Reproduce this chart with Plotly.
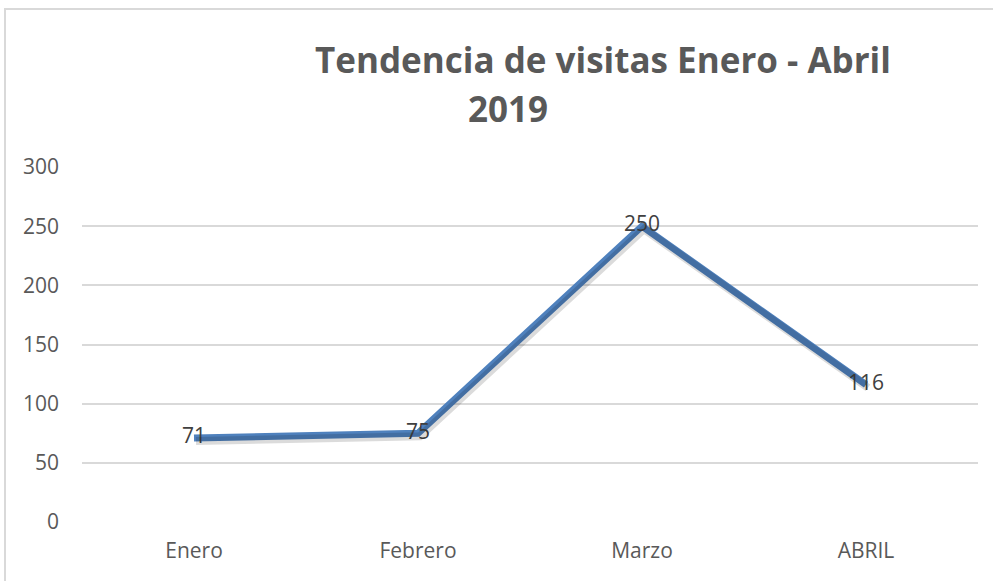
import plotly.graph_objects as go

categories = ["Enero", "Febrero", "Marzo", "ABRIL"]
visitas = [71, 75, 250, 116]
y_ticks = [0, 50, 100, 150, 200, 250, 300]
title_line1 = "Tendencia de visitas Enero - Abril"
title_line2 = "2019"

W, H = 993, 581
L, R, T, B = 82, 15, 167, 59
pw, ph = W - L - R, H - T - B

xr = [-0.5, 3.5]
yr = [0, 300]
# shadow offset in pixels
dx, dy = 2, 3
sx = (xr[1] - xr[0]) / pw * dx
sy = (yr[1] - yr[0]) / ph * dy

fig = go.Figure()
fig.add_trace(go.Scatter(
    x=categories, y=visitas, mode="lines",
    line=dict(color="rgba(0,0,0,0.14)", width=8),
    xaxis="x2", yaxis="y2", hoverinfo="skip", showlegend=False))
fig.add_trace(go.Scatter(
    x=categories, y=visitas, mode="lines+text",
    text=[str(v) for v in visitas], textposition="middle center",
    textfont=dict(family="Open Sans", size=21, color="#404040"),
    line=dict(color="#4F81BD", width=7), showlegend=False))

fig.update_layout(
    width=W, height=H,
    margin=dict(l=L, r=R, t=T, b=B),
    paper_bgcolor="white", plot_bgcolor="white",
    font=dict(family="Open Sans", color="#595959", size=21),
    xaxis=dict(type="category", range=xr, showgrid=False, zeroline=False,
               showline=False, ticks="", tickfont=dict(size=21, color="#595959"),
               ticklabelstandoff=14),
    yaxis=dict(range=yr, tickvals=y_ticks, showgrid=True, gridcolor="#D9D9D9",
               gridwidth=1.5, zeroline=False, showline=False, ticks="",
               tickfont=dict(size=21, color="#595959"), ticklabelstandoff=22),
    xaxis2=dict(type="category", range=[xr[0] - sx, xr[1] - sx], overlaying="x",
                visible=False),
    yaxis2=dict(range=[yr[0] + sy, yr[1] + sy], overlaying="y", visible=False),
    shapes=[dict(type="rect", xref="paper", yref="paper",
                 x0=(5 - L) / pw, x1=(1010 - L) / pw,
                 y0=(H - B - 600) / ph, y1=(H - B - 9) / ph,
                 line=dict(color="#D9D9D9", width=2), layer="below")],
    annotations=[
        dict(text="<b>" + title_line1 + "</b>", xref="paper", yref="paper",
             x=(603 - L) / pw, y=(H - B - 60) / ph, showarrow=False,
             xanchor="center", yanchor="middle",
             font=dict(family="Open Sans", size=35, color="#595959")),
        dict(text="<b>" + title_line2 + "</b>", xref="paper", yref="paper",
             x=(508 - L) / pw, y=(H - B - 108) / ph, showarrow=False,
             xanchor="center", yanchor="middle",
             font=dict(family="Open Sans", size=35, color="#595959")),
    ],
)

fig.write_html(
    "out.html",
    config={"displayModeBar": False},
    post_script="document.body.style.margin='0';document.body.style.overflow='hidden';",
)
